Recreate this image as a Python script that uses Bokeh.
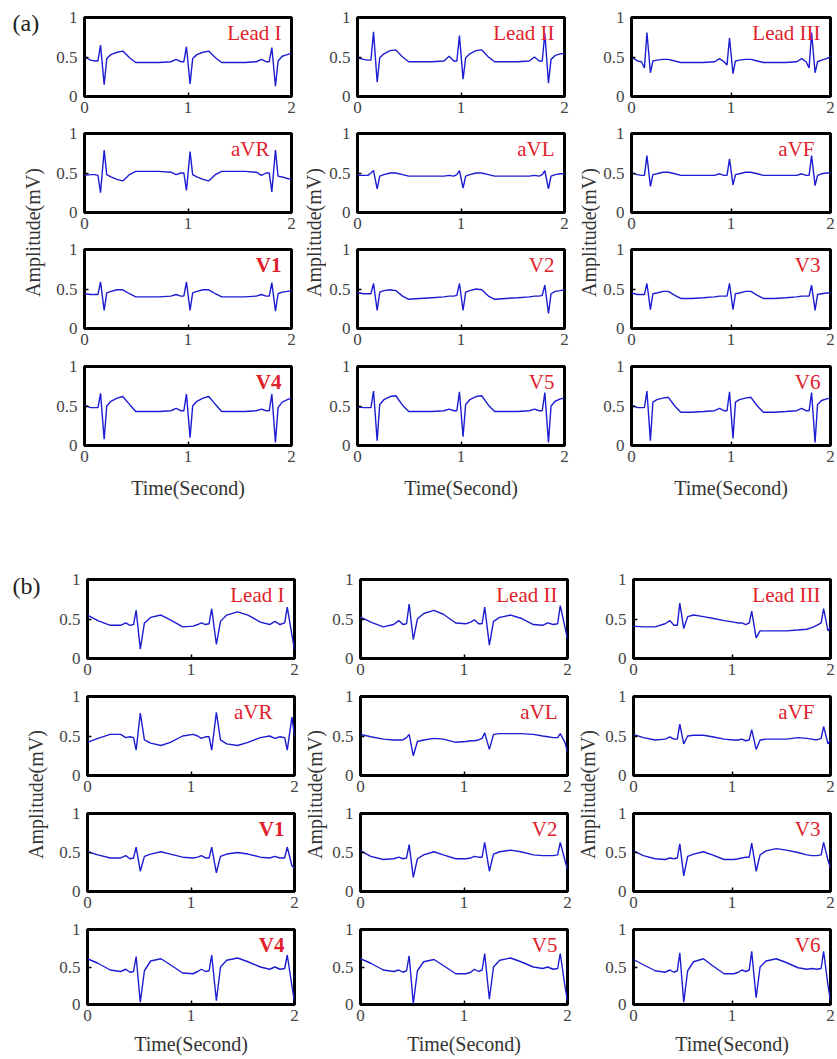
import math
from bokeh.plotting import figure
from bokeh.layouts import row, column
from bokeh.models import Range1d, Label, FixedTicker
from bokeh.embed import file_html
from bokeh.resources import INLINE

# ---------------- data ----------------
LEAD_NAMES = [["Lead I", "Lead II", "Lead III"],
              ["aVR", "aVL", "aVF"],
              ["V1", "V2", "V3"],
              ["V4", "V5", "V6"]]
X_TICKS = [0, 1, 2]
Y_TICKS = [0.0, 0.5, 1.0]
Y_TICK_LABELS = ["0", "0.5", "1"]
X_LABEL = "Time(Second)"
Y_LABEL = "Amplitude(mV)"
GROUP_TAGS = ["(a)", "(b)"]

# group (a): sample times (s)
T_A = [0.00, 0.06, 0.10, 0.13, 0.155, 0.19, 0.215, 0.255, 0.315, 0.37, 0.435, 0.495,
       0.60, 0.72, 0.835, 0.885, 0.93, 0.96, 0.985, 1.02, 1.045, 1.085, 1.145, 1.20,
       1.265, 1.325, 1.43, 1.55, 1.66, 1.71, 1.755, 1.785, 1.81, 1.845, 1.87, 1.91, 1.96, 2.00]

A_I   = [0.50, 0.46, 0.45, 0.45, 0.65, 0.15, 0.48, 0.53, 0.56, 0.575, 0.49, 0.43, 0.43, 0.43, 0.44, 0.47, 0.44, 0.44, 0.63, 0.16, 0.48, 0.53, 0.56, 0.575, 0.49, 0.43, 0.43, 0.43, 0.44, 0.47, 0.44, 0.44, 0.62, 0.13, 0.45, 0.51, 0.53, 0.55]
A_II  = [0.49, 0.47, 0.46, 0.46, 0.82, 0.18, 0.49, 0.54, 0.58, 0.59, 0.50, 0.44, 0.44, 0.44, 0.45, 0.51, 0.45, 0.45, 0.77, 0.22, 0.49, 0.54, 0.58, 0.59, 0.50, 0.44, 0.44, 0.44, 0.45, 0.50, 0.45, 0.45, 0.80, 0.17, 0.47, 0.52, 0.54, 0.545]
A_III = [0.50, 0.45, 0.44, 0.36, 0.81, 0.30, 0.45, 0.46, 0.47, 0.47, 0.45, 0.43, 0.43, 0.43, 0.44, 0.48, 0.44, 0.40, 0.74, 0.29, 0.45, 0.46, 0.47, 0.47, 0.45, 0.43, 0.43, 0.43, 0.44, 0.48, 0.44, 0.36, 0.81, 0.30, 0.44, 0.46, 0.48, 0.50]
A_AVR = [0.47, 0.48, 0.48, 0.47, 0.25, 0.79, 0.48, 0.45, 0.42, 0.40, 0.48, 0.52, 0.52, 0.52, 0.51, 0.48, 0.50, 0.50, 0.28, 0.77, 0.48, 0.45, 0.42, 0.40, 0.48, 0.52, 0.52, 0.52, 0.51, 0.47, 0.50, 0.50, 0.26, 0.79, 0.46, 0.45, 0.43, 0.42]
A_AVL = [0.47, 0.47, 0.47, 0.50, 0.53, 0.30, 0.46, 0.48, 0.50, 0.50, 0.48, 0.46, 0.46, 0.46, 0.46, 0.47, 0.46, 0.48, 0.53, 0.31, 0.46, 0.48, 0.50, 0.50, 0.48, 0.46, 0.46, 0.46, 0.46, 0.47, 0.46, 0.48, 0.53, 0.30, 0.46, 0.48, 0.49, 0.49]
A_AVF = [0.50, 0.48, 0.47, 0.47, 0.72, 0.33, 0.48, 0.49, 0.51, 0.51, 0.49, 0.47, 0.47, 0.47, 0.47, 0.49, 0.47, 0.47, 0.68, 0.35, 0.48, 0.49, 0.51, 0.51, 0.49, 0.47, 0.47, 0.47, 0.47, 0.49, 0.47, 0.47, 0.72, 0.34, 0.47, 0.49, 0.50, 0.50]
A_V1  = [0.44, 0.43, 0.43, 0.43, 0.59, 0.23, 0.45, 0.47, 0.49, 0.49, 0.44, 0.40, 0.40, 0.40, 0.41, 0.43, 0.41, 0.41, 0.59, 0.23, 0.45, 0.47, 0.49, 0.49, 0.44, 0.40, 0.40, 0.40, 0.41, 0.43, 0.41, 0.41, 0.58, 0.22, 0.44, 0.46, 0.47, 0.48]
A_V2  = [0.455, 0.44, 0.44, 0.44, 0.57, 0.23, 0.46, 0.48, 0.49, 0.48, 0.41, 0.37, 0.38, 0.39, 0.40, 0.41, 0.41, 0.42, 0.57, 0.23, 0.46, 0.48, 0.50, 0.49, 0.41, 0.37, 0.38, 0.39, 0.40, 0.41, 0.41, 0.42, 0.55, 0.19, 0.44, 0.47, 0.48, 0.49]
A_V3  = [0.45, 0.43, 0.43, 0.43, 0.57, 0.24, 0.44, 0.45, 0.47, 0.47, 0.42, 0.38, 0.38, 0.39, 0.40, 0.41, 0.41, 0.41, 0.57, 0.24, 0.44, 0.45, 0.47, 0.47, 0.42, 0.38, 0.38, 0.39, 0.40, 0.41, 0.41, 0.41, 0.55, 0.23, 0.43, 0.44, 0.45, 0.45]
A_V4  = [0.51, 0.48, 0.48, 0.48, 0.66, 0.08, 0.50, 0.56, 0.60, 0.62, 0.52, 0.43, 0.43, 0.43, 0.44, 0.47, 0.44, 0.44, 0.65, 0.10, 0.50, 0.56, 0.60, 0.62, 0.52, 0.43, 0.43, 0.43, 0.44, 0.46, 0.44, 0.44, 0.65, 0.04, 0.48, 0.55, 0.58, 0.60]
A_V5  = [0.49, 0.48, 0.48, 0.48, 0.69, 0.06, 0.52, 0.58, 0.62, 0.63, 0.51, 0.43, 0.43, 0.43, 0.44, 0.46, 0.44, 0.44, 0.68, 0.11, 0.52, 0.58, 0.62, 0.63, 0.51, 0.43, 0.43, 0.43, 0.44, 0.46, 0.44, 0.44, 0.67, 0.04, 0.50, 0.56, 0.59, 0.60]
A_V6  = [0.51, 0.48, 0.48, 0.48, 0.69, 0.06, 0.55, 0.58, 0.60, 0.61, 0.50, 0.42, 0.42, 0.43, 0.44, 0.47, 0.44, 0.44, 0.68, 0.09, 0.55, 0.58, 0.60, 0.61, 0.50, 0.42, 0.42, 0.43, 0.44, 0.47, 0.44, 0.44, 0.67, 0.04, 0.52, 0.57, 0.59, 0.60]

# group (b): sample times (s)
T_B = [0.00, 0.10, 0.22, 0.32, 0.37, 0.41, 0.445, 0.47, 0.51, 0.55, 0.61, 0.71, 0.80,
       0.92, 1.02, 1.065, 1.10, 1.14, 1.175, 1.20, 1.245, 1.285, 1.345, 1.45, 1.55,
       1.67, 1.76, 1.81, 1.86, 1.905, 1.93, 1.975, 2.00]

B_I   = [0.55, 0.48, 0.42, 0.42, 0.45, 0.42, 0.43, 0.61, 0.12, 0.45, 0.52, 0.55, 0.49, 0.40, 0.41, 0.43, 0.45, 0.43, 0.44, 0.63, 0.18, 0.47, 0.55, 0.59, 0.55, 0.46, 0.43, 0.47, 0.43, 0.45, 0.65, 0.30, 0.11]
B_II  = [0.525, 0.46, 0.40, 0.43, 0.48, 0.43, 0.44, 0.69, 0.24, 0.50, 0.57, 0.61, 0.56, 0.45, 0.44, 0.46, 0.49, 0.44, 0.44, 0.65, 0.17, 0.47, 0.52, 0.55, 0.51, 0.43, 0.42, 0.45, 0.43, 0.44, 0.67, 0.40, 0.25]
B_III = [0.41, 0.40, 0.40, 0.44, 0.48, 0.42, 0.42, 0.70, 0.38, 0.53, 0.55, 0.53, 0.51, 0.48, 0.46, 0.45, 0.45, 0.43, 0.45, 0.60, 0.26, 0.35, 0.35, 0.35, 0.35, 0.36, 0.37, 0.39, 0.42, 0.45, 0.63, 0.35, 0.40]
B_AVR = [0.42, 0.47, 0.52, 0.52, 0.48, 0.49, 0.48, 0.32, 0.79, 0.45, 0.41, 0.38, 0.42, 0.50, 0.52, 0.50, 0.47, 0.49, 0.49, 0.32, 0.80, 0.45, 0.40, 0.38, 0.42, 0.48, 0.50, 0.47, 0.49, 0.48, 0.32, 0.74, 0.50]
B_AVL = [0.52, 0.49, 0.46, 0.45, 0.45, 0.45, 0.48, 0.52, 0.25, 0.43, 0.45, 0.47, 0.46, 0.42, 0.43, 0.44, 0.44, 0.45, 0.47, 0.54, 0.33, 0.52, 0.53, 0.53, 0.53, 0.52, 0.50, 0.49, 0.48, 0.48, 0.53, 0.42, 0.30]
B_AVF = [0.52, 0.48, 0.45, 0.46, 0.49, 0.46, 0.46, 0.65, 0.40, 0.50, 0.51, 0.51, 0.49, 0.46, 0.45, 0.45, 0.46, 0.44, 0.45, 0.58, 0.33, 0.45, 0.46, 0.46, 0.46, 0.48, 0.47, 0.46, 0.45, 0.47, 0.62, 0.40, 0.45]
B_V1  = [0.51, 0.47, 0.43, 0.43, 0.46, 0.42, 0.43, 0.57, 0.26, 0.45, 0.48, 0.51, 0.48, 0.44, 0.43, 0.44, 0.46, 0.43, 0.43, 0.57, 0.24, 0.45, 0.48, 0.50, 0.48, 0.44, 0.43, 0.45, 0.43, 0.43, 0.57, 0.33, 0.30]
B_V2  = [0.52, 0.45, 0.41, 0.42, 0.44, 0.42, 0.43, 0.60, 0.18, 0.42, 0.47, 0.51, 0.47, 0.42, 0.42, 0.43, 0.45, 0.44, 0.44, 0.63, 0.26, 0.48, 0.51, 0.53, 0.51, 0.47, 0.46, 0.46, 0.46, 0.47, 0.63, 0.40, 0.28]
B_V3  = [0.52, 0.46, 0.42, 0.41, 0.43, 0.42, 0.43, 0.61, 0.20, 0.45, 0.48, 0.51, 0.47, 0.41, 0.41, 0.42, 0.43, 0.44, 0.44, 0.62, 0.26, 0.47, 0.52, 0.55, 0.53, 0.50, 0.47, 0.46, 0.46, 0.47, 0.63, 0.40, 0.30]
B_V4  = [0.61, 0.55, 0.46, 0.44, 0.47, 0.43, 0.44, 0.64, 0.03, 0.45, 0.58, 0.61, 0.53, 0.42, 0.41, 0.44, 0.47, 0.44, 0.45, 0.66, 0.05, 0.50, 0.59, 0.62, 0.57, 0.50, 0.47, 0.50, 0.47, 0.48, 0.66, 0.25, 0.03]
B_V5  = [0.61, 0.55, 0.46, 0.44, 0.46, 0.43, 0.45, 0.65, 0.01, 0.45, 0.57, 0.60, 0.52, 0.41, 0.41, 0.43, 0.47, 0.44, 0.46, 0.68, 0.07, 0.50, 0.59, 0.62, 0.57, 0.50, 0.48, 0.50, 0.47, 0.48, 0.68, 0.25, 0.04]
B_V6  = [0.60, 0.53, 0.45, 0.43, 0.46, 0.43, 0.45, 0.69, 0.03, 0.45, 0.57, 0.61, 0.52, 0.41, 0.41, 0.43, 0.46, 0.44, 0.46, 0.71, 0.09, 0.50, 0.58, 0.61, 0.56, 0.49, 0.47, 0.48, 0.47, 0.48, 0.71, 0.25, 0.05]

GROUP_A = [[A_I, A_II, A_III], [A_AVR, A_AVL, A_AVF], [A_V1, A_V2, A_V3], [A_V4, A_V5, A_V6]]
GROUP_B = [[B_I, B_II, B_III], [B_AVR, B_AVL, B_AVF], [B_V1, B_V2, B_V3], [B_V4, B_V5, B_V6]]

# ---------------- styling ----------------
FONT = "Liberation Serif"
LINE_COLOR = "#1c1cd2"
RED = "#e0212b"
TICK_COLOR = "#444444"
BOLD_LABELS = {"V1", "V4"}
LABEL_SHIFT = {"aVR": -22, "aVF": -16}


def panel(t, v, name, width, height, bl, br, bt, bb, xlabel=None, label_standoff=8):
    p = figure(width=width, height=height, x_range=Range1d(0, 2), y_range=Range1d(0, 1),
               output_backend="svg", toolbar_location=None,
               min_border_left=bl, min_border_right=br, min_border_top=bt, min_border_bottom=bb)
    p.line(t, v, line_color=LINE_COLOR, line_width=1.4)
    p.grid.visible = False
    p.outline_line_color = "black"
    p.outline_line_width = 3
    p.outline_line_alpha = 1.0
    for ax in (p.xaxis[0], p.yaxis[0]):
        ax.axis_line_color = None
        ax.major_tick_in = 4
        ax.major_tick_out = 0
        ax.minor_tick_line_color = None
        ax.major_tick_line_color = "black"
        ax.major_tick_line_width = 1.5
        ax.major_label_text_font = FONT
        ax.major_label_text_font_size = "17px"
        ax.major_label_text_color = TICK_COLOR
    p.xaxis.ticker = FixedTicker(ticks=X_TICKS)
    p.yaxis.ticker = FixedTicker(ticks=Y_TICKS)
    p.yaxis.major_label_overrides = {tk: lb for tk, lb in zip(Y_TICKS, Y_TICK_LABELS)}
    p.xaxis.major_label_standoff = 5
    p.yaxis.major_label_standoff = 7
    if xlabel:
        p.xaxis.axis_label = xlabel
        p.xaxis.axis_label_text_font = FONT
        p.xaxis.axis_label_text_font_size = "20px"
        p.xaxis.axis_label_text_font_style = "normal"
        p.xaxis.axis_label_text_color = "#333333"
        p.xaxis.axis_label_standoff = label_standoff
    p.add_layout(Label(x=2, y=0.8, x_offset=LABEL_SHIFT.get(name, -10), text=name,
                       text_align="right", text_baseline="middle", text_color=RED,
                       text_font=FONT, text_font_size="21px",
                       text_font_style="bold" if name in BOLD_LABELS else "normal"))
    return p


def text_fig(w, h, cx, cy, tag=None, tag_y=None):
    p = figure(width=w, height=h, x_range=Range1d(0, w), y_range=Range1d(0, h),
               output_backend="svg", toolbar_location=None, min_border=0,
               min_border_left=0, min_border_right=0, min_border_top=0, min_border_bottom=0,
               x_axis_type=None, y_axis_type=None)
    p.outline_line_color = None
    p.add_layout(Label(x=cx, y=cy, text=Y_LABEL, angle=math.pi / 2, text_align="center",
                       text_baseline="middle", text_font=FONT, text_font_size="20px",
                       text_color="#333333"))
    if tag:
        p.add_layout(Label(x=12, y=tag_y, text=tag, text_align="left", text_baseline="middle",
                           text_font=FONT, text_font_size="24px", text_color="#222222"))
    return p


def group(t, data, tag, left_w, mid_ws, col_ws, brs, heights, bts, bbs, amp_cxs, amp_cy, tag_y, xl_standoff):
    total_h = sum(heights)
    cols = []
    for c in range(3):
        figs = []
        for r in range(4):
            figs.append(panel(t, data[r][c], LEAD_NAMES[r][c], col_ws[c], heights[r],
                              30, brs[c], bts[r], bbs[r],
                              xlabel=X_LABEL if r == 3 else None, label_standoff=xl_standoff))
        cols.append(column(*figs, spacing=0))
    lab0 = text_fig(left_w, total_h, amp_cxs[0], amp_cy, tag, tag_y)
    lab1 = text_fig(mid_ws[0], total_h, amp_cxs[1], amp_cy)
    lab2 = text_fig(mid_ws[1], total_h, amp_cxs[2], amp_cy)
    return row(lab0, cols[0], lab1, cols[1], lab2, cols[2], spacing=0)


ga = group(T_A, GROUP_A, GROUP_TAGS[0], 53, [27, 28], [246, 246, 236], [8, 8, 6],
           [122, 116, 116, 147], [17, 11, 11, 12], [26, 26, 26, 56],
           [32, 14, 16], 269, 479, 12)
gb = group(T_B, GROUP_B, GROUP_TAGS[1], 56, [27, 27], [246, 246, 234], [8, 8, 6],
           [183, 117, 116, 140], [78, 12, 12, 12], [26, 26, 26, 50],
           [35, 12, 12], 263, 472, 9)

layout = column(ga, gb, spacing=0)
open("out.html", "w").write(file_html(layout, INLINE))
